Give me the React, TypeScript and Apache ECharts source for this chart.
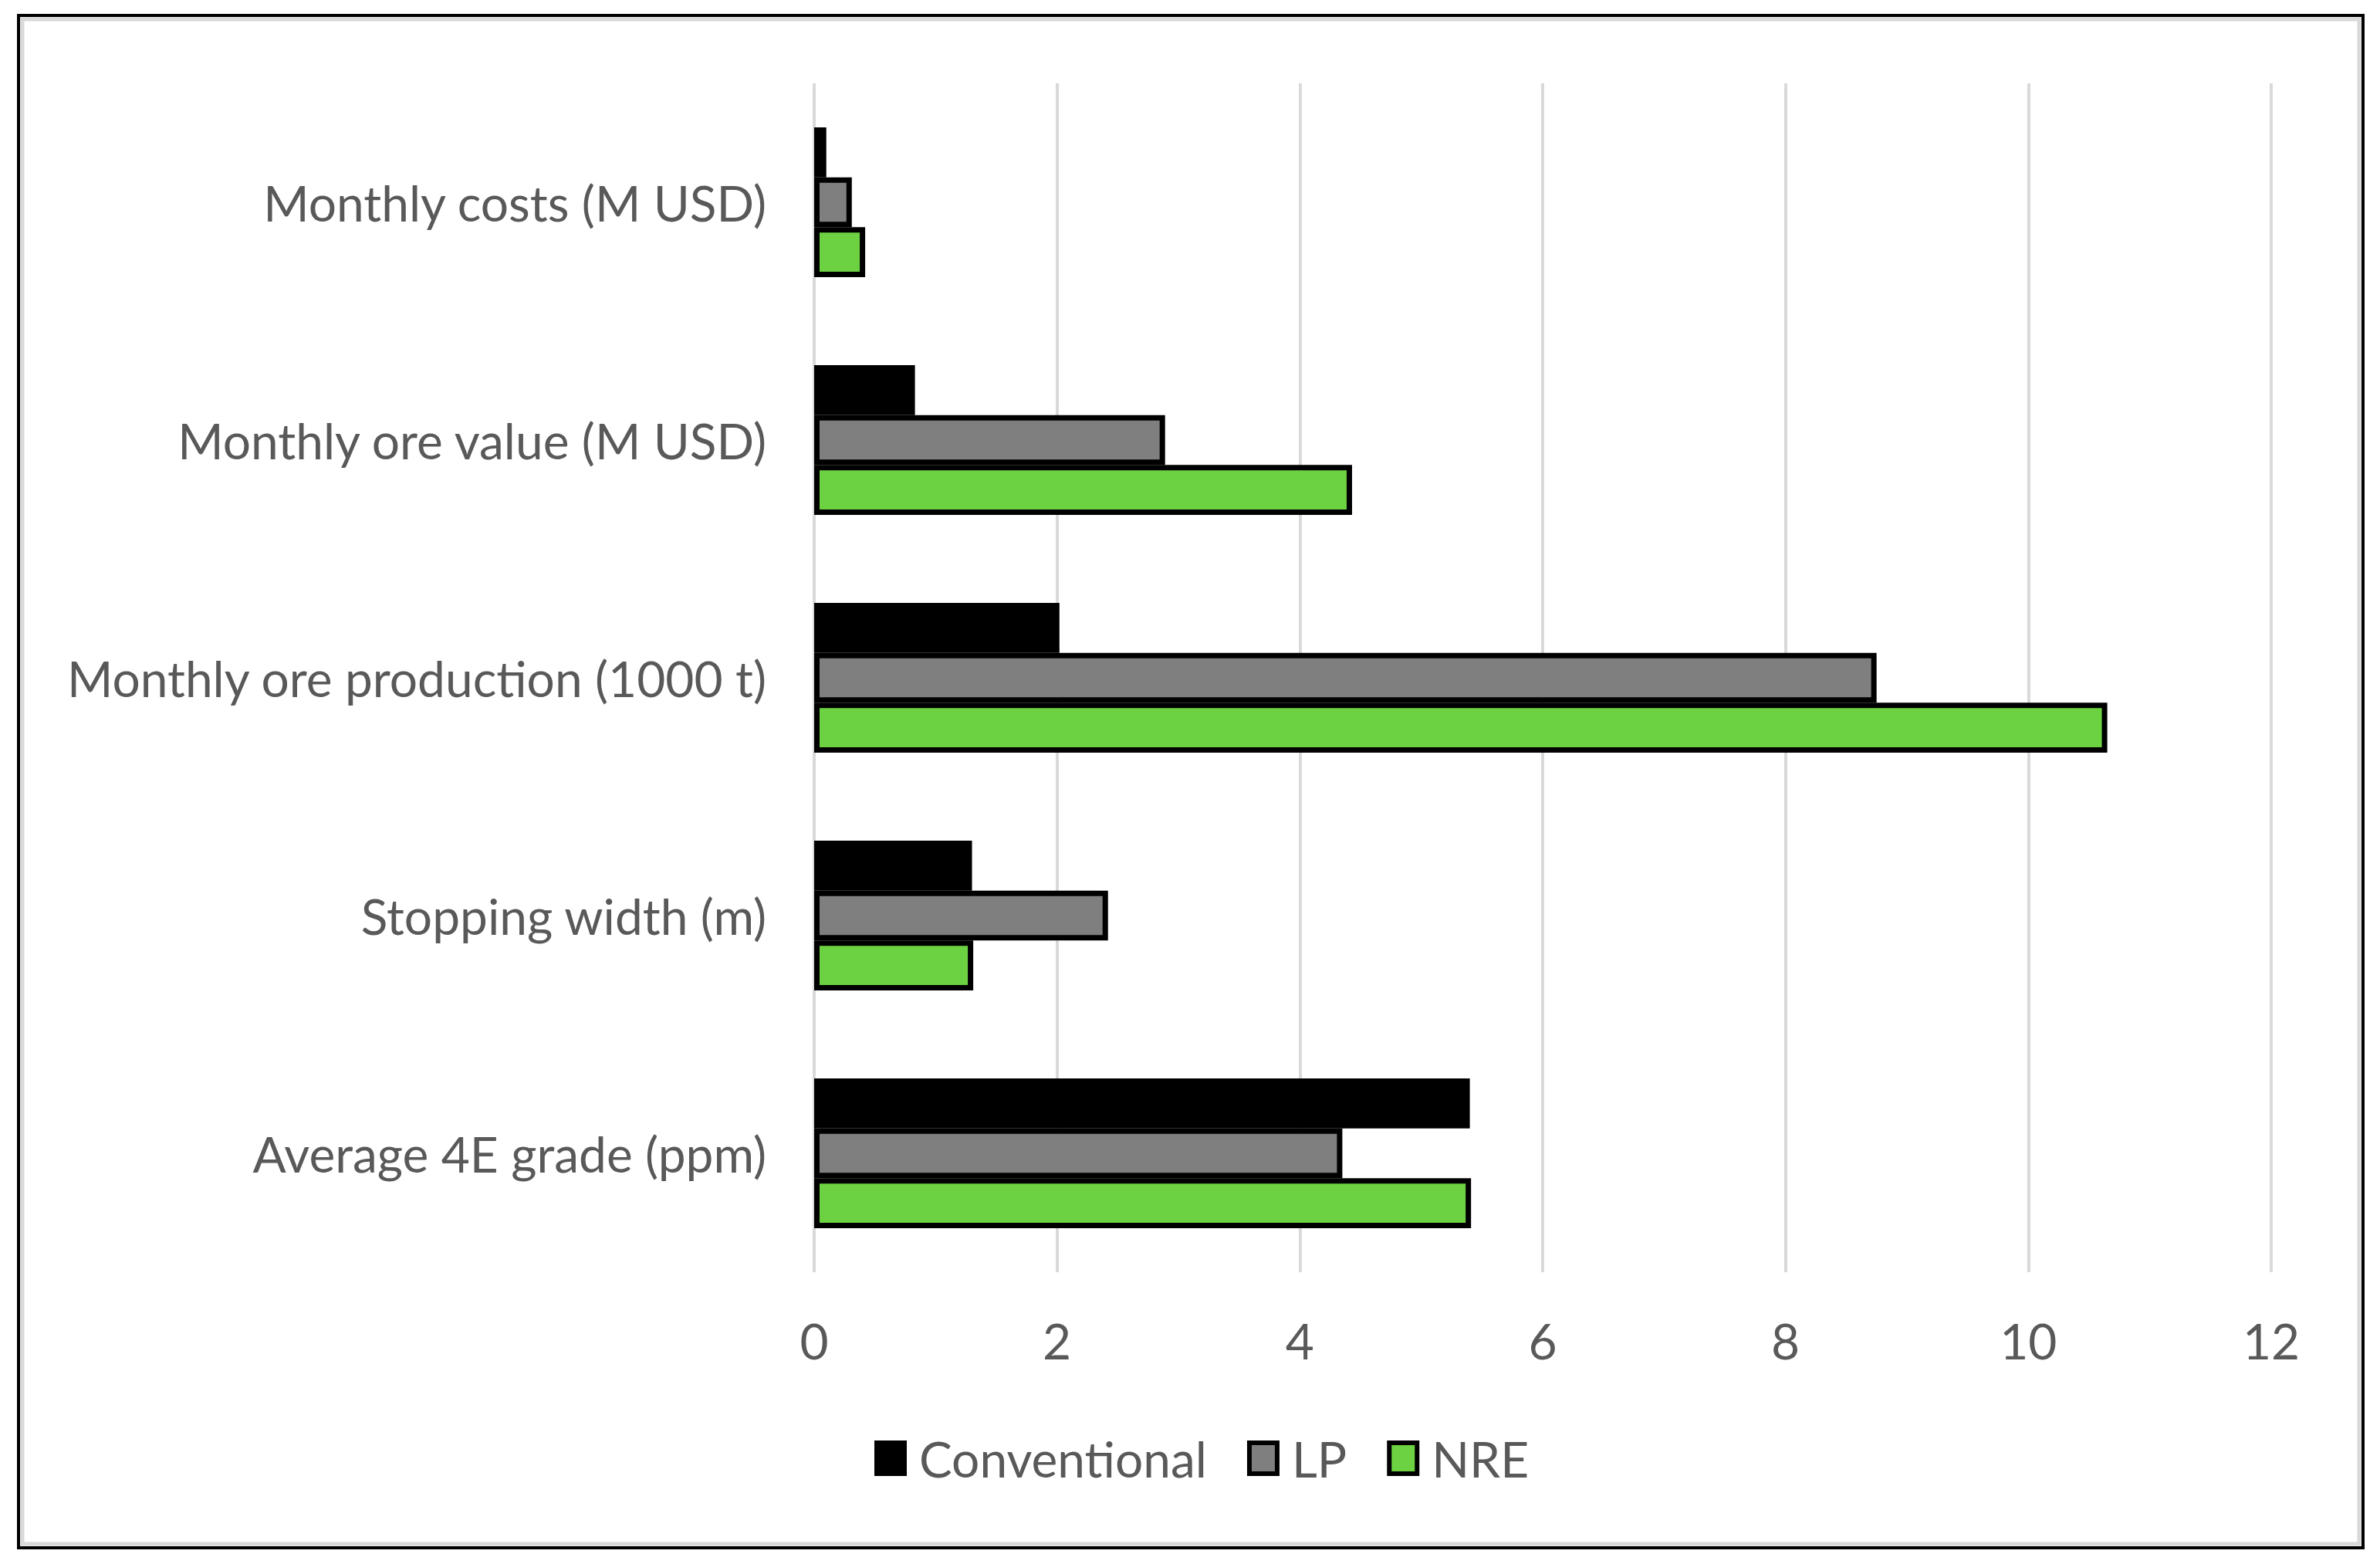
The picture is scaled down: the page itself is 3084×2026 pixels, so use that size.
import React, { useEffect, useRef } from "react";
import * as echarts from "echarts";

const categories = [
  "Average 4E grade (ppm)",
  "Stopping width (m)",
  "Monthly ore production (1000 t)",
  "Monthly ore value (M USD)",
  "Monthly costs (M USD)",
];
const conventional = [5.4, 1.3, 2.02, 0.83, 0.1];
const lp = [4.35, 2.42, 8.75, 2.89, 0.31];
const nre = [5.41, 1.31, 10.65, 4.43, 0.42];
const seriesNames = ["Conventional", "LP", "NRE"];
const xMin = 0;
const xMax = 12;
const xInterval = 2;

const W = 3084;
const H = 2026;
const FONT = "Lato";
const TEXT = "#595959";
const colors = ["#000000", "#7f7f7f", "#6cd242"];

export default function App() {
  const ref = useRef<HTMLDivElement>(null);
  useEffect(() => {
    if (!ref.current) return;
    const chart = echarts.init(ref.current, undefined, { renderer: "svg", width: W, height: H });
    const data = [conventional, lp, nre];
    chart.setOption({
      animation: false,
      backgroundColor: "#ffffff",
      textStyle: { fontFamily: FONT },
      graphic: [
        {
          type: "rect",
          shape: { x: 24, y: 20, width: 3038, height: 1985 },
          style: { fill: "none", stroke: "#000000", lineWidth: 4 },
          z: 100,
        },
        {
          type: "rect",
          shape: { x: 29, y: 25, width: 3028, height: 1975 },
          style: { fill: "none", stroke: "#d9d9d9", lineWidth: 5 },
          z: 100,
        },
      ],
      grid: { left: 1055, right: 141, top: 108, bottom: 378, containLabel: false },
      xAxis: {
        type: "value",
        min: xMin,
        max: xMax,
        interval: xInterval,
        axisLine: { show: false },
        axisTick: { show: false },
        splitLine: { show: true, lineStyle: { color: "#d9d9d9", width: 4 } },
        axisLabel: { color: TEXT, fontSize: 64, fontFamily: FONT, margin: 56 },
      },
      yAxis: {
        type: "category",
        data: categories,
        axisLine: { show: false },
        axisTick: { show: false },
        splitLine: { show: false },
        axisLabel: { color: TEXT, fontSize: 64, fontFamily: FONT, margin: 62 },
      },
      legend: {
        bottom: 100,
        left: 1128,
        itemWidth: 36,
        itemHeight: 40,
        itemGap: 52,
        icon: "rect",
        textStyle: { color: TEXT, fontSize: 64, fontFamily: FONT, padding: [0, 0, 0, 14] },
        itemStyle: { borderWidth: 6, borderColor: "#000000" },
        data: seriesNames,
      },
      series: seriesNames.map((name, i) => ({
        name,
        type: "bar",
        data: data[i],
        barGap: "0%",
        barCategoryGap: "37%",
        itemStyle: { color: colors[i], borderColor: "#000000", borderWidth: 7 },
      })),
    });
    return () => chart.dispose();
  }, []);
  return (
    <div
      ref={ref}
      style={{ position: "absolute", left: 0, top: 0, width: W, height: H }}
    />
  );
}
